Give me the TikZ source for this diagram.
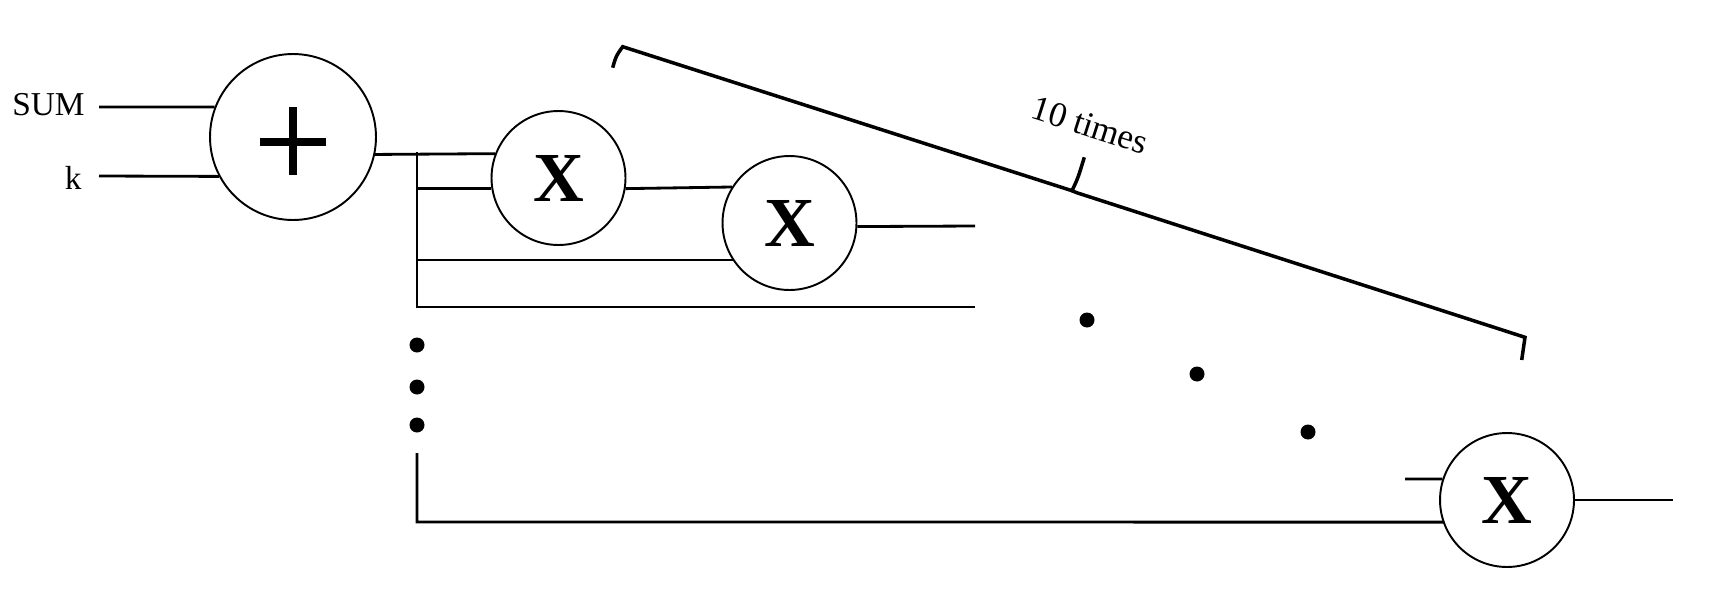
\documentclass[tikz,border=0pt]{standalone}
\usepackage{fontspec}
\setmainfont{Liberation Serif}
\usetikzlibrary{positioning}
\usetikzlibrary{calc}

\tikzset{
  opnode/.style={circle, draw, line width=1.1pt, inner sep=0pt, minimum size=#1},
  mulnode/.style={opnode=2.68cm, font=\fontsize{40}{44}\selectfont\bfseries},
  wire/.style={line width=1.6pt},
  bracket/.style={line width=2pt},
  inlabel/.style={anchor=base east, inner sep=0pt, font=\fontsize{19}{22}\selectfont},
}

\begin{document}
\begin{tikzpicture}[x=0.02cm, y=-0.02cm]
        \useasboundingbox (0,0) rectangle (1734,602);
        \node[opnode=3.32cm] (add) at (293,137) {};
        \draw[line width=4.5pt] ($(add.center)+(-33,5)$) -- ($(add.center)+(33,5)$);
        \draw[line width=4.5pt] ($(add.center)+(0,-30)$) -- ($(add.center)+(0,38)$);
        \node[mulnode] (mult1) at (558.5,178) {X};
        \node[mulnode] (mult2) at (789.5,223) {X};
        \node[mulnode] (mult3) at (1507,500) {X};
        \node[inlabel] (sumlabel) at (85,115) {SUM};
        \node[inlabel] (klabel) at (82,189) {k};

        \coordinate (sumin) at (99,107);
        \coordinate (kin) at (99,176);
        \coordinate (bustop) at (417,152);
        \coordinate (busend) at (417,307);
        \coordinate (buslow) at (417,453);
        \coordinate (busbot) at (417,522);
        \coordinate (out2) at (975,226);
        \coordinate (tap3) at (975,307);
        \coordinate (stub3) at (1405,479);
        \coordinate (out3) at (1673,500);

        \draw[wire] (sumin) -- (add.159);
        \draw[wire] (kin) -- (add.208);
        \draw[wire] (add.-12) -- (mult1.159);
        \draw[wire] (bustop) -- (busend) -- (tap3);
        \draw[wire] (mult1.189) -- (mult1.189 -| bustop);
        \draw[wire] (mult1.-9) -- (mult2.148);
        \draw[wire] (mult2.213) -- (mult2.213 -| bustop);
        \draw[wire] (mult2.-3) -- (out2);
        \draw[wire] (buslow) -- (busbot) -- (mult3.199);
        \draw[wire] (stub3) -- (mult3.162);
        \draw[wire] (mult3.0) -- (out3);

        \foreach \p in {(417,345),(417,387),(417,425),(1087,320),(1197,374),(1308,432)}
            \fill \p circle (0.15cm);

        \draw[bracket] (612.7,67.7) .. controls (616,56) .. (622.7,46.7) -- (1072,190.7) .. controls (1078,178) .. (1084.3,157.3);
        \draw[bracket] (1072,190.7) -- (1076.7,192.7) -- (1525,337.3) .. controls (1524,348) .. (1521.7,360);
        \node[rotate=-17.7, font=\fontsize{20}{24}\selectfont] (times) at (1090,125) {10 times};
\end{tikzpicture}
\end{document}
